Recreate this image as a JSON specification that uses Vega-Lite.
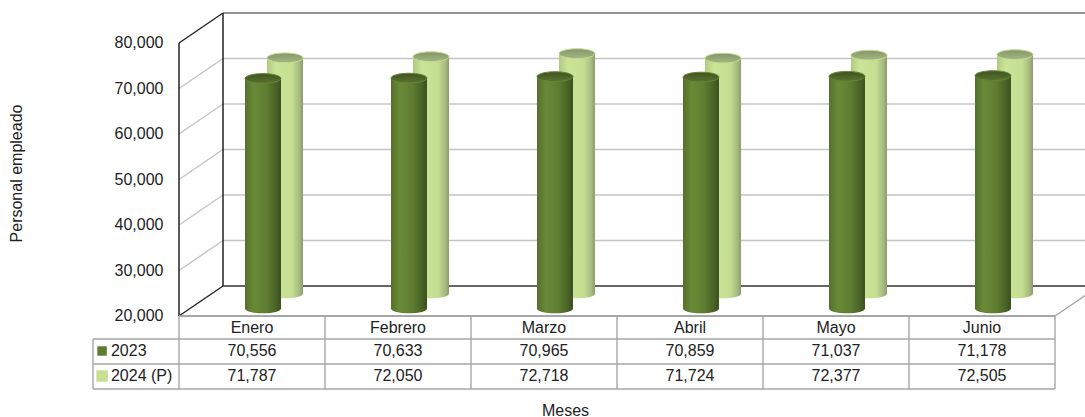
{"$schema":"https://vega.github.io/schema/vega-lite/v6.json","width":906,"height":376,"autosize":"none","padding":{"left":179,"top":13,"right":0,"bottom":28},"background":"white","config":{"view":{"stroke":null},"text":{"font":"Liberation Sans"}},
"datasets":{"niveles":[{"nivel":20000},{"nivel":30000},{"nivel":40000},{"nivel":50000},{"nivel":60000},{"nivel":70000},{"nivel":80000}]},
"data":{"values":[
{"mes":"Enero","serie":"2023","valor":70556},{"mes":"Febrero","serie":"2023","valor":70633},{"mes":"Marzo","serie":"2023","valor":70965},{"mes":"Abril","serie":"2023","valor":70859},{"mes":"Mayo","serie":"2023","valor":71037},{"mes":"Junio","serie":"2023","valor":71178},
{"mes":"Enero","serie":"2024 (P)","valor":71787},{"mes":"Febrero","serie":"2024 (P)","valor":72050},{"mes":"Marzo","serie":"2024 (P)","valor":72718},{"mes":"Abril","serie":"2024 (P)","valor":71724},{"mes":"Mayo","serie":"2024 (P)","valor":72377},{"mes":"Junio","serie":"2024 (P)","valor":72505}]},
"transform":[
{"calculate":"indexof(['Enero','Febrero','Marzo','Abril','Mayo','Junio'],datum.mes)+1","as":"idx"},
{"calculate":"datum.serie=='2023'?0.25:0.75","as":"prof"},
{"calculate":"datum.idx-0.5","as":"xmes"},
{"calculate":"datum.xmes+datum.prof*0.3014","as":"xc"},
{"calculate":"datum.xc-0.1233","as":"xa"},
{"calculate":"datum.xc+0.1233","as":"xb"},
{"calculate":"datum.valor+datum.prof*6593","as":"ytop"},
{"calculate":"20000+datum.prof*6593","as":"ybase"}],
"layer":[
{"data":{"name":"niveles"},"transform":[{"calculate":"datum.nivel+6593","as":"yf"}],"mark":{"type":"rule","strokeWidth":1.6},
"encoding":{"x":{"datum":0.3014,"type":"quantitative","scale":{"domain":[0,6.2055],"nice":false,"zero":false},"axis":{"title":"Meses","labels":false,"ticks":false,"domain":false,"grid":false,"titleX":386,"titleY":21,"titleFont":"Liberation Sans","titleFontSize":16,"titleFontWeight":"normal","titleColor":"#222","titleBaseline":"middle"}},"x2":{"datum":6.3014},
"y":{"field":"yf","type":"quantitative","scale":{"domain":[3956,86593],"nice":false,"zero":false},"axis":{"title":"Personal empleado","values":[20000,30000,40000,50000,60000,70000,80000],"format":",d","ticks":false,"domain":false,"grid":false,"labelPadding":16,"labelFont":"Liberation Sans","labelFontSize":16,"labelColor":"#222","titleFont":"Liberation Sans","titleFontSize":16,"titleFontWeight":"normal","titleColor":"#222","titleX":-163,"titleY":160,"titleBaseline":"middle"}},
"color":{"condition":{"test":"datum.nivel==20000","value":"#333333"},"value":"#c4c4c4"}}},
{"data":{"name":"niveles"},"transform":[{"filter":"datum.nivel==80000"},{"calculate":"datum.nivel+6593","as":"yf"}],"mark":{"type":"rule","strokeWidth":1.4,"color":"#808080"},"encoding":{"x":{"datum":0.3014,"type":"quantitative"},"x2":{"datum":6.3014},"y":{"field":"yf","type":"quantitative"}}},
{"data":{"name":"niveles"},"transform":[{"calculate":"datum.nivel+6593","as":"yf"}],"mark":{"type":"rule","strokeWidth":1.4},"encoding":{"x":{"datum":0,"type":"quantitative"},"x2":{"datum":0.3014},"y":{"field":"nivel","type":"quantitative"},"y2":{"field":"yf"},"color":{"condition":{"test":"datum.nivel==20000||datum.nivel==80000","value":"#222222"},"value":"#c4c4c4"}}},
{"data":{"name":"niveles"},"transform":[{"filter":"datum.nivel==20000"},{"calculate":"datum.nivel+6593","as":"yf"}],"mark":{"type":"rule","strokeWidth":1.4,"color":"#a6a6a6"},"encoding":{"x":{"datum":6,"type":"quantitative"},"x2":{"datum":6.3014},"y":{"field":"nivel","type":"quantitative"},"y2":{"field":"yf"}}},
{"data":{"name":"niveles"},"transform":[{"filter":"datum.nivel==20000"}],"mark":{"type":"rule","strokeWidth":1.5,"color":"#222222"},"encoding":{"x":{"datum":0.3014,"type":"quantitative"},"y":{"datum":26593,"type":"quantitative"},"y2":{"datum":86593}}},
{"data":{"name":"niveles"},"transform":[{"filter":"datum.nivel==20000"}],"mark":{"type":"rule","strokeWidth":1.5,"color":"#222222"},"encoding":{"x":{"datum":0,"type":"quantitative"},"y":{"datum":20000,"type":"quantitative"},"y2":{"datum":80000}}},

{"transform":[{"filter":"datum.serie!='2023'"}],"mark":{"type":"point","filled":true,"opacity":1,"size":1296,"shape":"M -1 0 C -1 -0.149 -0.552 -0.27 0 -0.27 C 0.552 -0.27 1 -0.149 1 0 C 1 0.149 0.552 0.27 0 0.27 C -0.552 0.27 -1 0.149 -1 0 Z","fill":{"x1":0,"x2":1,"y1":0,"y2":0,"gradient":"linear","stops":[{"offset":0,"color":"#b0c97f"},{"offset":0.25,"color":"#cbe598"},{"offset":0.7,"color":"#c4dd90"},{"offset":0.9,"color":"#a5b980"},{"offset":1,"color":"#8b9c6c"}]}},"encoding":{"x":{"field":"xc","type":"quantitative"},"y":{"field":"ybase","type":"quantitative"}}},
{"transform":[{"filter":"datum.serie!='2023'"}],"mark":{"type":"rect","fill":{"x1":0,"x2":1,"y1":0,"y2":0,"gradient":"linear","stops":[{"offset":0,"color":"#b0c97f"},{"offset":0.25,"color":"#cbe598"},{"offset":0.7,"color":"#c4dd90"},{"offset":0.9,"color":"#a5b980"},{"offset":1,"color":"#8b9c6c"}]}},"encoding":{"x":{"field":"xa","type":"quantitative"},"x2":{"field":"xb"},"y":{"field":"ytop","type":"quantitative"},"y2":{"field":"ybase"}}},
{"transform":[{"filter":"datum.serie!='2023'"}],"mark":{"type":"point","filled":true,"opacity":1,"size":1296,"shape":"M -1 0 C -1 -0.149 -0.552 -0.27 0 -0.27 C 0.552 -0.27 1 -0.149 1 0 C 1 0.149 0.552 0.27 0 0.27 C -0.552 0.27 -1 0.149 -1 0 Z","fill":{"x1":0,"x2":0,"y1":0,"y2":1,"gradient":"linear","stops":[{"offset":0,"color":"#84966a"},{"offset":1,"color":"#a3b681"}]},"stroke":"#c2dc8f","strokeWidth":1},"encoding":{"x":{"field":"xc","type":"quantitative"},"y":{"field":"ytop","type":"quantitative"}}},

{"transform":[{"filter":"datum.serie=='2023'"}],"mark":{"type":"point","filled":true,"opacity":1,"size":1296,"shape":"M -1 0 C -1 -0.149 -0.552 -0.27 0 -0.27 C 0.552 -0.27 1 -0.149 1 0 C 1 0.149 0.552 0.27 0 0.27 C -0.552 0.27 -1 0.149 -1 0 Z","fill":{"x1":0,"x2":1,"y1":0,"y2":0,"gradient":"linear","stops":[{"offset":0,"color":"#55702b"},{"offset":0.25,"color":"#6a8a38"},{"offset":0.6,"color":"#5f7c30"},{"offset":0.85,"color":"#4a6326"},{"offset":1,"color":"#3c5020"}]}},"encoding":{"x":{"field":"xc","type":"quantitative"},"y":{"field":"ybase","type":"quantitative"}}},
{"transform":[{"filter":"datum.serie=='2023'"}],"mark":{"type":"rect","fill":{"x1":0,"x2":1,"y1":0,"y2":0,"gradient":"linear","stops":[{"offset":0,"color":"#55702b"},{"offset":0.25,"color":"#6a8a38"},{"offset":0.6,"color":"#5f7c30"},{"offset":0.85,"color":"#4a6326"},{"offset":1,"color":"#3c5020"}]}},"encoding":{"x":{"field":"xa","type":"quantitative"},"x2":{"field":"xb"},"y":{"field":"ytop","type":"quantitative"},"y2":{"field":"ybase"}}},
{"transform":[{"filter":"datum.serie=='2023'"}],"mark":{"type":"point","filled":true,"opacity":1,"size":1296,"shape":"M -1 0 C -1 -0.149 -0.552 -0.27 0 -0.27 C 0.552 -0.27 1 -0.149 1 0 C 1 0.149 0.552 0.27 0 0.27 C -0.552 0.27 -1 0.149 -1 0 Z","fill":{"x1":0,"x2":0,"y1":0,"y2":1,"gradient":"linear","stops":[{"offset":0,"color":"#3f5320"},{"offset":1,"color":"#5a7230"}]},"stroke":"#668534","strokeWidth":1},"encoding":{"x":{"field":"xc","type":"quantitative"},"y":{"field":"ytop","type":"quantitative"}}},

{"transform":[{"filter":"datum.serie=='2023'"}],"mark":{"type":"rule","strokeWidth":1.4,"color":"#a6a6a6"},"encoding":{"x":{"field":"idx","type":"quantitative"},"y":{"datum":20000,"type":"quantitative"},"y2":{"datum":3956}}},
{"transform":[{"filter":"datum.mes=='Enero'&&datum.serie=='2023'"}],"mark":{"type":"rule","strokeWidth":1.4,"color":"#a6a6a6"},"encoding":{"x":{"datum":0,"type":"quantitative"},"y":{"datum":20000,"type":"quantitative"},"y2":{"datum":3956}}},
{"transform":[{"filter":"datum.mes=='Enero'&&datum.serie=='2023'"}],"mark":{"type":"rule","strokeWidth":1.4,"color":"#a6a6a6"},"encoding":{"x":{"datum":-0.589,"type":"quantitative"},"y":{"datum":14945,"type":"quantitative"},"y2":{"datum":3956}}},
{"transform":[{"filter":"datum.mes=='Enero'&&datum.serie=='2023'"}],"mark":{"type":"rule","strokeWidth":2,"color":"#a6a6a6"},"encoding":{"x":{"datum":0,"type":"quantitative"},"x2":{"datum":6},"y":{"datum":20000,"type":"quantitative"}}},
{"transform":[{"filter":"datum.mes=='Enero'&&datum.serie=='2023'"}],"mark":{"type":"rule","strokeWidth":1.4,"color":"#a6a6a6"},"encoding":{"x":{"datum":-0.589,"type":"quantitative"},"x2":{"datum":6},"y":{"datum":14945,"type":"quantitative"}}},
{"transform":[{"filter":"datum.mes=='Enero'&&datum.serie=='2023'"}],"mark":{"type":"rule","strokeWidth":1.4,"color":"#a6a6a6"},"encoding":{"x":{"datum":-0.589,"type":"quantitative"},"x2":{"datum":6},"y":{"datum":9451,"type":"quantitative"}}},
{"transform":[{"filter":"datum.mes=='Enero'&&datum.serie=='2023'"}],"mark":{"type":"rule","strokeWidth":1.4,"color":"#a6a6a6"},"encoding":{"x":{"datum":-0.589,"type":"quantitative"},"x2":{"datum":6},"y":{"datum":3956,"type":"quantitative"}}},

{"transform":[{"filter":"datum.serie=='2023'"}],"mark":{"type":"text","fontSize":16,"color":"#222","align":"center","baseline":"middle"},"encoding":{"x":{"field":"xmes","type":"quantitative"},"y":{"datum":17363,"type":"quantitative"},"text":{"field":"mes"}}},
{"transform":[{"filter":"datum.serie=='2023'"}],"mark":{"type":"text","fontSize":16,"color":"#222","align":"center","baseline":"middle"},"encoding":{"x":{"field":"xmes","type":"quantitative"},"y":{"datum":12308,"type":"quantitative"},"text":{"field":"valor","type":"quantitative","format":",d"}}},
{"transform":[{"filter":"datum.serie!='2023'"}],"mark":{"type":"text","fontSize":16,"color":"#222","align":"center","baseline":"middle"},"encoding":{"x":{"field":"xmes","type":"quantitative"},"y":{"datum":6813,"type":"quantitative"},"text":{"field":"valor","type":"quantitative","format":",d"}}},
{"transform":[{"filter":"datum.mes=='Enero'&&datum.serie=='2023'"}],"mark":{"type":"text","fontSize":16,"color":"#222","align":"left","baseline":"middle"},"encoding":{"x":{"datum":-0.466,"type":"quantitative"},"y":{"datum":12308,"type":"quantitative"},"text":{"field":"serie"}}},
{"transform":[{"filter":"datum.mes=='Enero'&&datum.serie!='2023'"}],"mark":{"type":"text","fontSize":16,"color":"#222","align":"left","baseline":"middle"},"encoding":{"x":{"datum":-0.466,"type":"quantitative"},"y":{"datum":6813,"type":"quantitative"},"text":{"field":"serie"}}},
{"transform":[{"filter":"datum.mes=='Enero'&&datum.serie=='2023'"}],"mark":{"type":"point","shape":"square","filled":true,"opacity":1,"size":90,"color":"#5f7d30"},"encoding":{"x":{"datum":-0.527,"type":"quantitative"},"y":{"datum":12308,"type":"quantitative"}}},
{"transform":[{"filter":"datum.mes=='Enero'&&datum.serie!='2023'"}],"mark":{"type":"point","shape":"square","filled":true,"opacity":1,"size":130,"color":"#c6df93"},"encoding":{"x":{"datum":-0.527,"type":"quantitative"},"y":{"datum":6813,"type":"quantitative"}}}
]}
